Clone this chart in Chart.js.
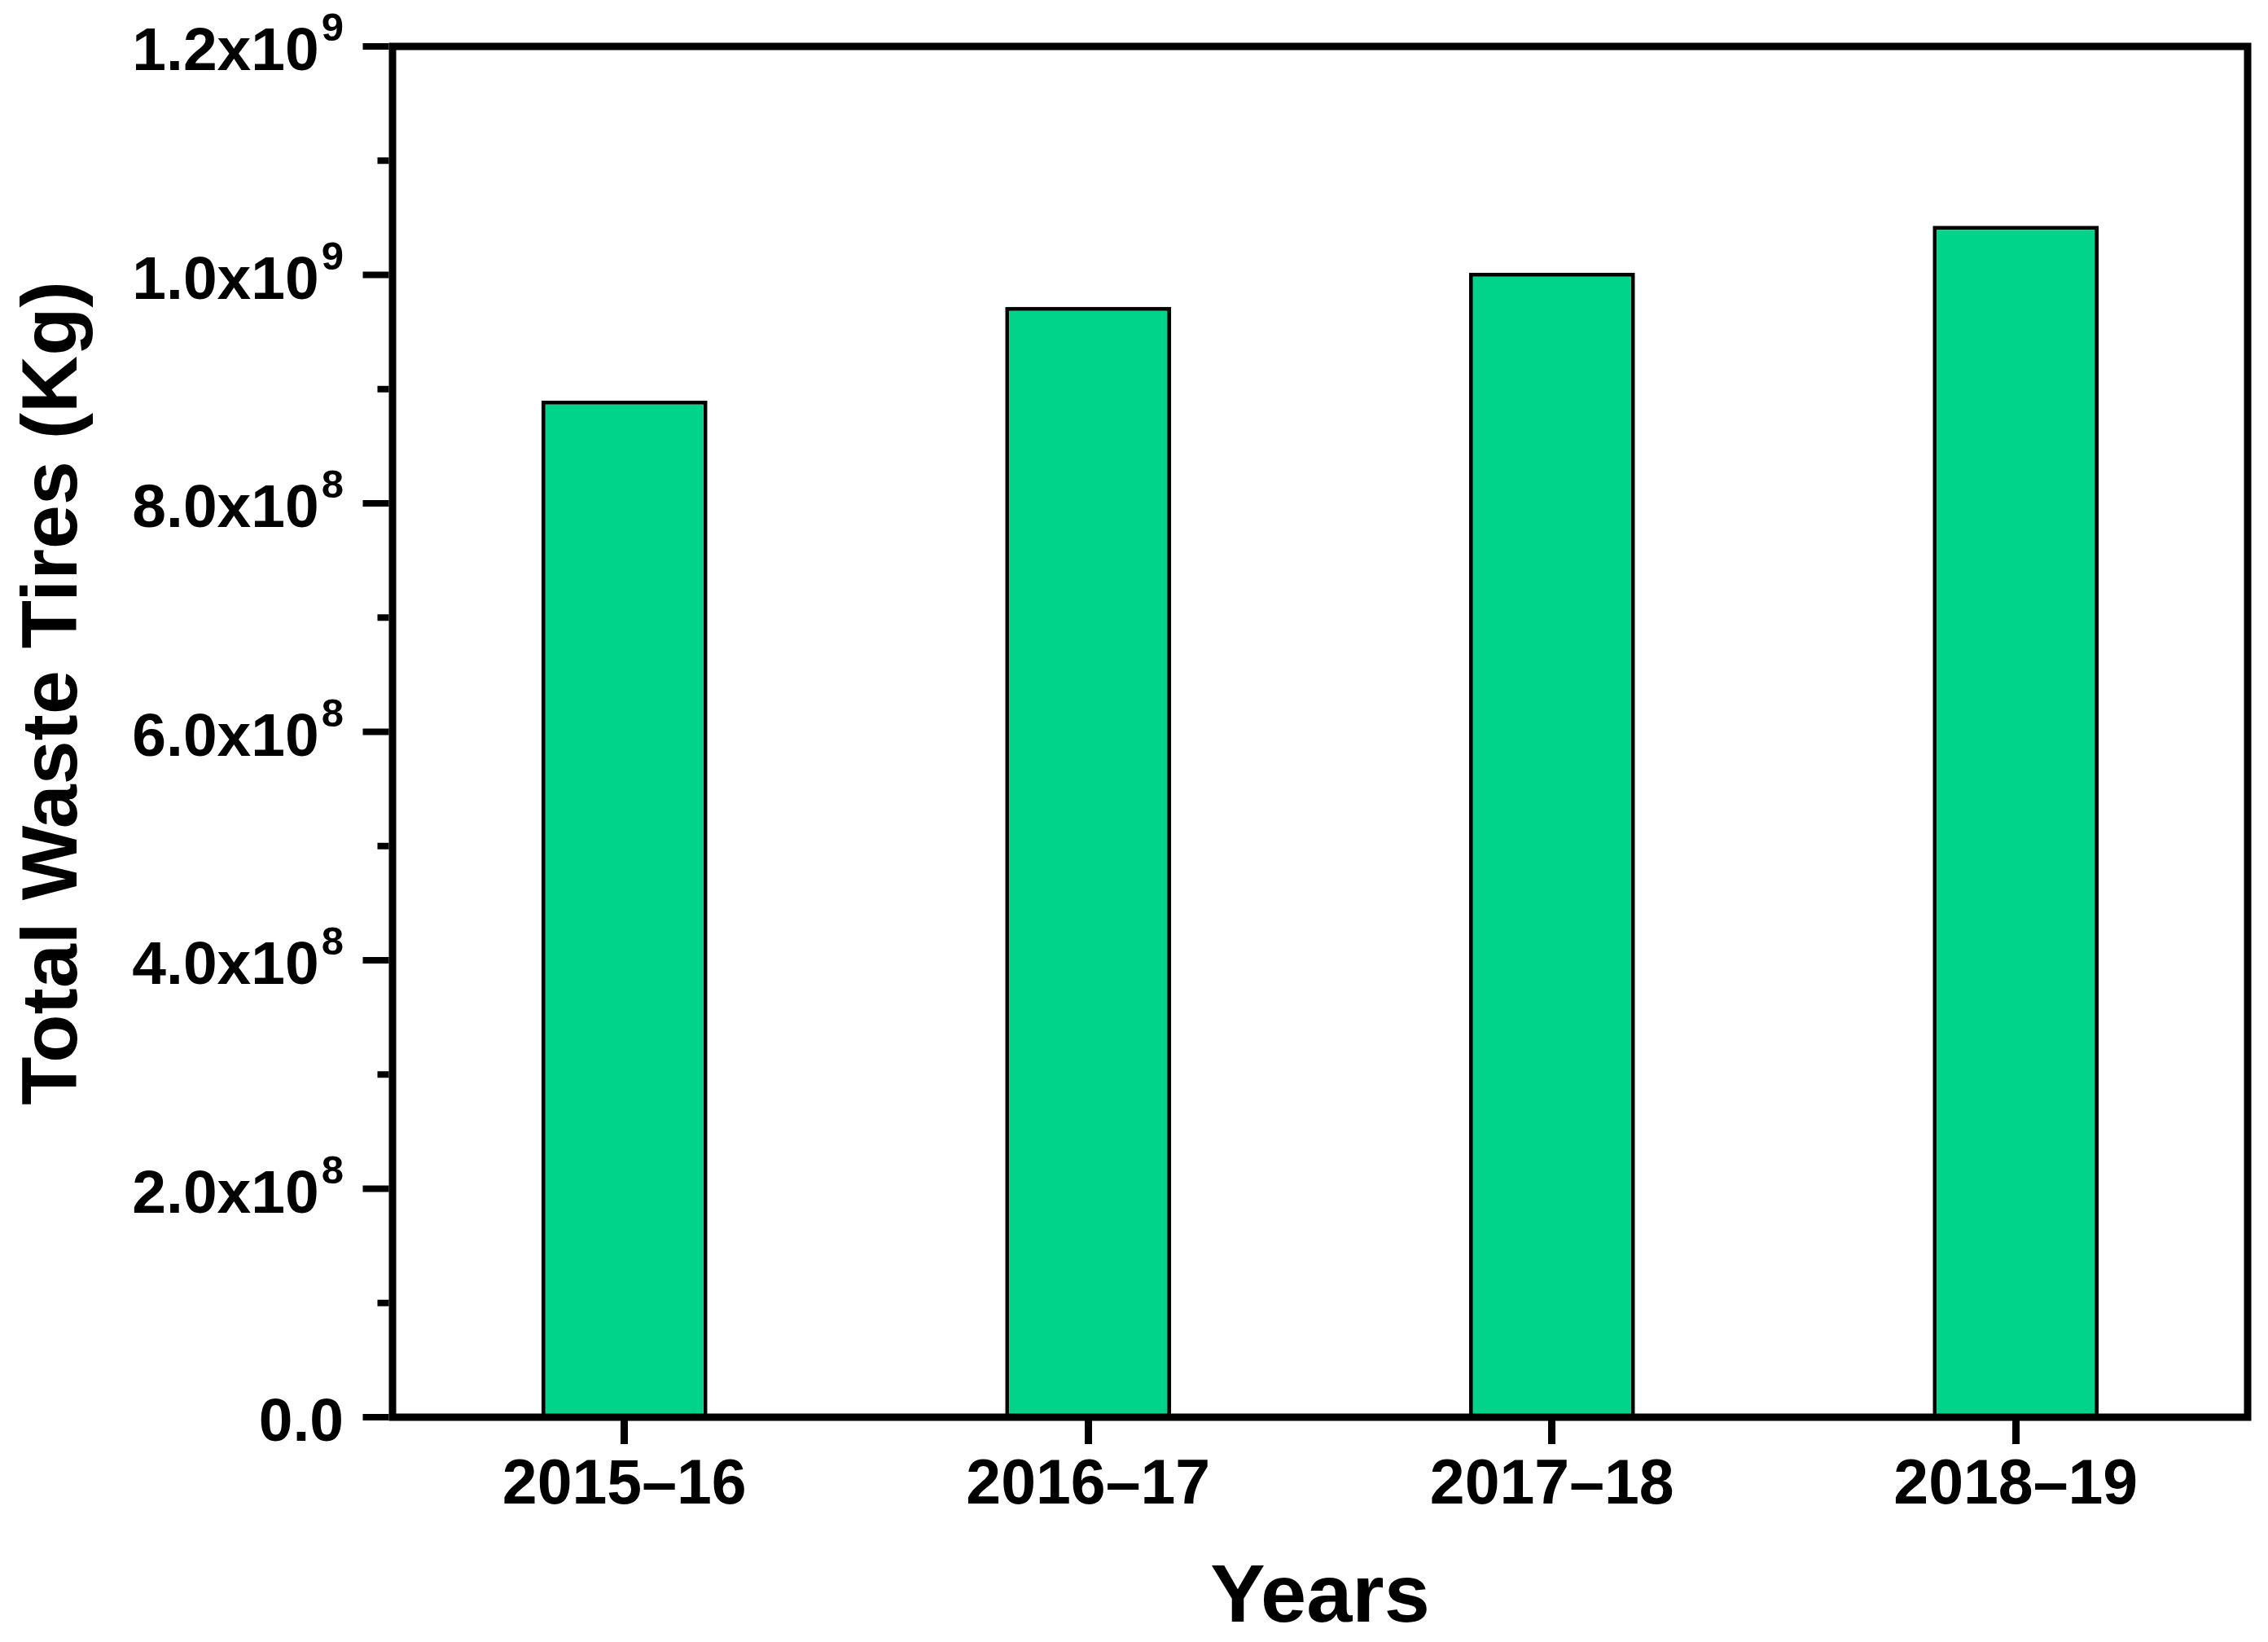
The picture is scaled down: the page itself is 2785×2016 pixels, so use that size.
<!DOCTYPE html>
<html>
<head>
<meta charset="utf-8">
<script src="https://cdn.jsdelivr.net/npm/chart.js@4.4.1/dist/chart.umd.min.js"></script>
<style>
  html, body { margin: 0; padding: 0; background: #fff; }
  #wrap { width: 2785px; height: 2016px; }
</style>
</head>
<body>
<div id="wrap"><canvas id="wasteChart" width="2785" height="2016"></canvas></div>
<script>
const years = ["2015–16", "2016–17", "2017–18", "2018–19"];
const totalWasteKg = [0.890e9, 0.972e9, 1.002e9, 1.043e9];
const yMin = 0;
const yMax = 1.2e9;
const yMinorStep = 1e8;
const yMajorStep = 2e8;
const yTitle = "Total Waste Tires (Kg)";
const xTitle = "Years";

const FONT = "'Liberation Sans', Arial, sans-serif";

// 2e8 -> ["2.0x10", "8"], 0 -> ["0.0", ""]
function sciParts(v) {
    if (v === 0) return ["0.0", ""];
    const exp = Math.floor(Math.log10(v) + 1e-9);
    const mant = v / Math.pow(10, exp);
    return [mant.toFixed(1) + "x10", String(exp)];
}

// frame, y tick marks with minor ticks, superscript labels, y title
const frameAndAxis = {
    id: "frameAndAxis",
    afterDatasetsDraw(chart) {
        const { ctx, chartArea: a, scales: { y } } = chart;
        ctx.save();
        ctx.strokeStyle = "#000";
        ctx.fillStyle = "#000";
        ctx.lineWidth = 9;
        ctx.strokeRect(a.left, a.top, a.right - a.left, a.bottom - a.top);

        const edge = a.left - 4.5;
        ctx.lineWidth = 8;
        y.ticks.forEach(t => {
            const py = y.getPixelForValue(t.value);
            const q = t.value / yMajorStep;
            const major = Math.abs(q - Math.round(q)) < 1e-6;
            const len = major ? 32 : 14;
            ctx.beginPath();
            ctx.moveTo(edge, py);
            ctx.lineTo(edge - len, py);
            ctx.stroke();
            if (!major) return;

            const [base, sup] = sciParts(t.value);
            const right = 422;
            ctx.textBaseline = "alphabetic";
            ctx.textAlign = "right";
            let baseRight = right;
            if (sup) {
                ctx.font = "bold 49px " + FONT;
                ctx.fillText(sup, right, py - 7);
                baseRight = right - ctx.measureText(sup).width - 3;
            }
            ctx.font = "bold 75px " + FONT;
            ctx.fillText(base, baseRight, py + 29);
        });

        ctx.translate(67, 851);
        ctx.rotate(-Math.PI / 2);
        ctx.textAlign = "center";
        ctx.textBaseline = "middle";
        ctx.font = "bold 97px " + FONT;
        ctx.fillText(yTitle, 0, 0);
        ctx.restore();
    }
};

const ctx = document.getElementById("wasteChart").getContext("2d");
new Chart(ctx, {
    type: "bar",
    data: {
        labels: years,
        datasets: [{
            data: totalWasteKg,
            backgroundColor: "#00D48A",
            borderColor: "#000",
            borderWidth: 5,
            borderSkipped: "start",
            barPercentage: 0.358,
            categoryPercentage: 1.0
        }]
    },
    options: {
        responsive: false,
        animation: false,
        devicePixelRatio: 1,
        layout: { padding: { left: 0, right: 25, top: 57, bottom: 0 } },
        plugins: {
            legend: { display: false },
            tooltip: { enabled: false }
        },
        scales: {
            x: {
                offset: true,
                border: { display: false },
                grid: {
                    display: true,
                    drawOnChartArea: false,
                    drawTicks: true,
                    tickLength: 33,
                    tickWidth: 9,
                    tickColor: "#000",
                    offset: false
                },
                ticks: {
                    color: "#000",
                    font: { family: FONT, size: 77, weight: "bold" },
                    padding: 6,
                    maxRotation: 0,
                    autoSkip: false
                },
                title: {
                    display: true,
                    text: xTitle,
                    color: "#000",
                    font: { family: FONT, size: 101, weight: "bold", lineHeight: 1.05 },
                    padding: { top: 0, bottom: 0 }
                },
                afterFit(scale) { scale.height = 2016 - 1740; }
            },
            y: {
                min: yMin,
                max: yMax,
                border: { display: false },
                grid: { display: false },
                ticks: { display: false, stepSize: yMinorStep },
                afterFit(scale) { scale.width = 482; }
            }
        }
    },
    plugins: [frameAndAxis]
});
</script>
</body>
</html>
